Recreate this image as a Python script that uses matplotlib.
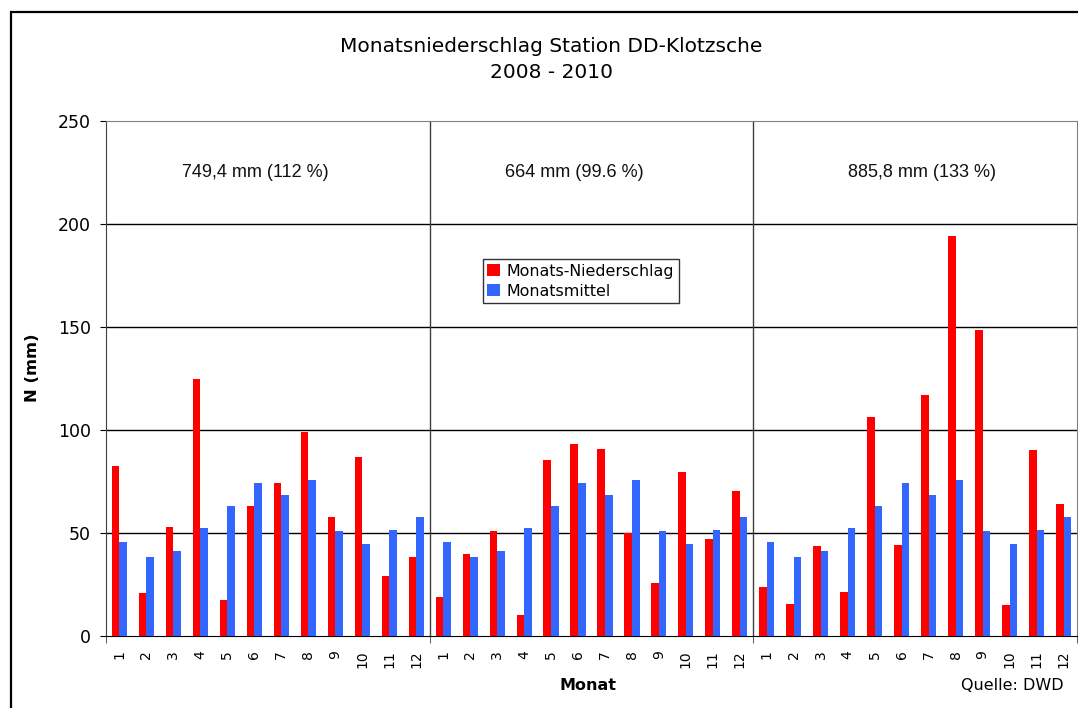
import matplotlib
matplotlib.use("Agg")
import matplotlib.pyplot as plt
from matplotlib.patches import Rectangle
import numpy as np

plt.rcParams['font.family'] = ['DejaVu Sans']

months = [str(m) for m in range(1, 13)]
years = ["2008", "2009", "2010"]
niederschlag_2008 = [82.6, 20.9, 53.0, 124.9, 17.6, 63.2, 74.4, 99.2, 57.9, 87.0, 29.3, 38.5]
niederschlag_2009 = [19.1, 40.0, 51.0, 10.4, 85.6, 93.3, 91.0, 50.2, 25.8, 79.8, 47.2, 70.6]
niederschlag_2010 = [23.9, 15.6, 43.8, 21.4, 106.2, 44.3, 117.1, 194.3, 148.7, 15.2, 90.5, 64.2]
monatsmittel = [45.8, 38.5, 41.3, 52.5, 63.2, 74.4, 68.6, 75.9, 51.0, 44.8, 51.5, 57.9]
year_labels = ["749,4 mm (112 %)", "664 mm (99.6 %)", "885,8 mm (133 %)"]
yticks = [0, 50, 100, 150, 200, 250]

red = niederschlag_2008 + niederschlag_2009 + niederschlag_2010
blue = monatsmittel * 3
xlabels = months * 3
n = len(red)
x = np.arange(n) + 0.5
bw = 0.28

fig = plt.figure(figsize=(10.78, 7.08), dpi=100)
ax = fig.add_axes([106/1078, 1-636/708, 971/1078, 515/708])

ax.bar(x - bw/2, red, width=bw, color='#FF0000', label='Monats-Niederschlag', zorder=3)
ax.bar(x + bw/2, blue, width=bw, color='#3366FF', label='Monatsmittel', zorder=3)

ax.set_xlim(0, n)
ax.set_ylim(0, 250)
ax.set_yticks(yticks)
for yv in yticks[1:-1]:
    ax.axhline(yv, color='black', lw=1.0, zorder=1)
for xv in (12, 24):
    ax.axvline(xv, color='#404040', lw=1.0, zorder=2)

ax.set_xticks(x)
ax.set_xticklabels(xlabels, rotation=90, fontsize=10)
ax.tick_params(axis='x', which='major', length=0, pad=10)
ax.set_xticks([0, 12, 24, 36], minor=True)
ax.tick_params(axis='x', which='minor', length=5, direction='out', color='#404040')
ax.tick_params(axis='y', length=4, direction='out', pad=7, labelsize=12.5)

for s in ('top', 'right'):
    ax.spines[s].set_color('#808080')
ax.spines['left'].set_color('#404040')
ax.spines['bottom'].set_color('black')

for xp, txt in zip([5.52, 17.35, 30.26], year_labels):
    ax.text(xp, 225, txt, ha='center', va='center', fontsize=13,
            family='Liberation Sans', color='#111111')

leg = ax.legend(loc='upper left', bbox_to_anchor=(0.388, 0.732), borderaxespad=0,
                fontsize=11.4, frameon=True, fancybox=False, edgecolor='black',
                handlelength=0.8, handleheight=0.8, handletextpad=0.4,
                borderpad=0.3, labelspacing=0.3)
leg.get_frame().set_linewidth(1.0)

ax.set_ylabel('N (mm)', fontsize=11.8, fontweight='bold', labelpad=13)
ax.yaxis.label.set_y((636-368)/515)
fig.text(588/1078, 1-685/708, 'Monat', ha='center', va='center', fontsize=11.5, fontweight='bold')
fig.text(1064/1078, 1-686/708, 'Quelle: DWD', ha='right', va='center', fontsize=11.5)

fig.text(551/1078, 1-47/708, 'Monatsniederschlag Station DD-Klotzsche', ha='center', va='center', fontsize=14.5)
fig.text(551/1078, 1-73/708, '2008 - 2010', ha='center', va='center', fontsize=14.5)

fig.patches.append(Rectangle((11/1078, -0.1), 2.0, 1.1 - 12/708, transform=fig.transFigure,
                             fill=False, edgecolor='black', lw=1.6, zorder=10))

fig.savefig('out.png', dpi=100)
